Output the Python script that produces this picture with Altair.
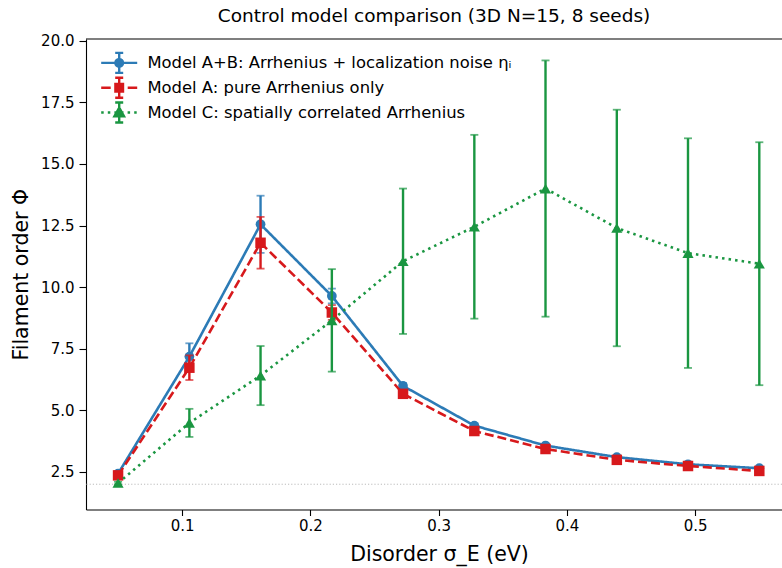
import altair as alt
import pandas as pd

# ---------------- data ----------------
SIGMA = [0.05, 0.1056, 0.1611, 0.2167, 0.2722, 0.3278, 0.3833, 0.4389, 0.4944, 0.55]

SERIES = [
    "Model A+B: Arrhenius + localization noise \u03b7\u1d62",
    "Model A: pure Arrhenius only",
    "Model C: spatially correlated Arrhenius",
]

PHI_AB = [2.43, 7.18, 12.55, 9.64, 5.99, 4.38, 3.57, 3.10, 2.81, 2.65]
ERR_AB = [0.08, 0.54, 1.16, 0.30, 0.12, 0.08, 0.06, 0.05, 0.04, 0.04]

PHI_A = [2.36, 6.73, 11.80, 8.97, 5.67, 4.16, 3.43, 2.99, 2.74, 2.54]
ERR_A = [0.08, 0.50, 1.05, 0.30, 0.12, 0.08, 0.06, 0.05, 0.04, 0.04]

PHI_C = [2.05, 4.49, 6.41, 8.65, 11.05, 12.45, 14.00, 12.40, 11.38, 10.95]
ERR_C = [0.05, 0.57, 1.20, 2.08, 2.95, 3.73, 5.20, 4.80, 4.66, 4.93]

BASELINE = [2.0]

X_TICKS = [0.1, 0.2, 0.3, 0.4, 0.5]
Y_TICKS = [2.5, 5.0, 7.5, 10.0, 12.5, 15.0, 17.5, 20.0]

TITLE = "Control model comparison (3D N=15, 8 seeds)"
X_TITLE = "Disorder \u03c3_E (eV)"
Y_TITLE = "Filament order \u03a6"

# ---------------- styles ----------------
COLORS = ["#2c7bb6", "#d7191c", "#1a9641"]
SHAPES = ["circle", "square", "triangle-up"]
SIZES = [95, 110, 125]
DASHES = [[1, 0], [9, 4], [2.5, 4.1]]
FONT = "DejaVu Sans"

X_DOMAIN = [0.025, 0.5677]
Y_DOMAIN = [0.975, 20.07]

frames = []
for name, phi, err in zip(SERIES, [PHI_AB, PHI_A, PHI_C], [ERR_AB, ERR_A, ERR_C]):
    frames.append(pd.DataFrame({
        "sigma": SIGMA,
        "phi": phi,
        "lo": [p - e for p, e in zip(phi, err)],
        "hi": [p + e for p, e in zip(phi, err)],
        "series": name,
    }))
df_all = pd.concat(frames, ignore_index=True)

xenc = alt.X("sigma:Q",
             scale=alt.Scale(domain=X_DOMAIN, nice=False, zero=False),
             axis=alt.Axis(values=X_TICKS, format=".1f", title=X_TITLE,
                           titleX=353, titlePadding=11, tickSize=6, labelPadding=3))
yenc = alt.Y("phi:Q",
             scale=alt.Scale(domain=Y_DOMAIN, nice=False, zero=False),
             axis=alt.Axis(values=Y_TICKS, format=".1f", title=Y_TITLE,
                           titlePadding=9, tickSize=7, labelPadding=5))

# legend symbol paths (line + error bar + marker); path unit = 5 px
K = 2.0


def hline(kind):
    if kind == 0:
        segs = [(-1.8, 1.8)]
    elif kind == 1:
        segs = [(-1.8, -0.85), (-0.45, 0.45), (0.85, 1.8)]
    else:
        segs = []
        x = -1.8
        while x < 1.8:
            segs.append((x, min(x + 0.25, 1.8)))
            x += 0.66
    return "".join(f"M{a*K:.2f},0L{b*K:.2f},0" for a, b in segs)


r = 0.38 * K
t = 0.48 * K
MARKER_PATHS = [
    f"M{r},0A{r},{r},0,1,1,{-r},0A{r},{r},0,1,1,{r},0Z",
    f"M{-r},{-r}L{r},{-r}L{r},{r}L{-r},{r}Z",
    f"M0,{-t}L{t},{r}L{-t},{r}Z",
]
c = 0.4 * K
BAR_PATH = f"M0,{-K}L0,{K}M{-c},{-K}L{c},{-K}M{-c},{K}L{c},{K}"
LEGEND_PATHS = [hline(i) + BAR_PATH + MARKER_PATHS[i] for i in range(3)]

layers = []

# baseline dotted rule
layers.append(
    alt.Chart(pd.DataFrame({"b": BASELINE})).mark_rule(
        color="#bbbbbb", strokeWidth=1, strokeDash=[1.2, 2]
    ).encode(y=alt.Y("b:Q", scale=alt.Scale(domain=Y_DOMAIN, nice=False, zero=False)))
)

for i, name in enumerate(SERIES):
    base = alt.Chart(df_all).transform_filter(alt.datum.series == name)
    col = COLORS[i]
    layers.append(base.mark_line(color=col, strokeWidth=2.6, strokeDash=DASHES[i]).encode(x=xenc, y=yenc))
    layers.append(base.mark_rule(color=col, strokeWidth=2.4).encode(x=xenc, y=alt.Y("lo:Q"), y2="hi:Q"))
    layers.append(base.mark_tick(color=col, orient="horizontal", thickness=1.8, size=8).encode(x=xenc, y=alt.Y("lo:Q")))
    layers.append(base.mark_tick(color=col, orient="horizontal", thickness=1.8, size=8).encode(x=xenc, y=alt.Y("hi:Q")))
    layers.append(base.mark_point(color=col, shape=SHAPES[i], filled=True, opacity=1, size=SIZES[i]).encode(x=xenc, y=yenc))

leg = alt.Legend(title=None, orient="none", legendX=25, legendY=15.7,
                 labelFontSize=16.4, labelFont=FONT, labelColor="black",
                 symbolSize=100, symbolStrokeWidth=2.4, symbolOpacity=1,
                 labelOffset=20, rowPadding=-5.2, padding=0, labelLimit=600)
layers.append(
    alt.Chart(df_all).mark_point(filled=True, opacity=0).encode(
        x=xenc, y=yenc,
        fill=alt.Fill("series:N", scale=alt.Scale(domain=SERIES, range=COLORS), legend=leg),
        stroke=alt.Stroke("series:N", scale=alt.Scale(domain=SERIES, range=COLORS), legend=leg),
        shape=alt.Shape("series:N", scale=alt.Scale(domain=SERIES, range=LEGEND_PATHS), legend=leg),
    )
)

# top spine
layers.append(
    alt.Chart(pd.DataFrame({"t": [Y_DOMAIN[1]]})).mark_rule(color="black", strokeWidth=1.1)
    .encode(y=alt.Y("t:Q", scale=alt.Scale(domain=Y_DOMAIN, nice=False, zero=False)))
)

chart = alt.layer(*layers).properties(
    width=696, height=470.5,
    padding={"left": 86, "top": 39, "right": 0, "bottom": 58.5},
    autosize=alt.AutoSizeParams(type="none"),
    title=alt.TitleParams(TITLE, font=FONT, fontSize=18.5, fontWeight="normal",
                          color="black", anchor="middle", offset=8),
).configure_view(stroke=None).configure_axis(
    grid=False, domainColor="black", domainWidth=1.1, tickColor="black",
    tickWidth=1.1, labelFont=FONT, labelFontSize=15,
    labelColor="black", titleFont=FONT, titleFontSize=20.5,
    titleFontWeight="normal", titleColor="black"
)

chart.save("out.html", embed_options={"renderer": "svg", "actions": False})
